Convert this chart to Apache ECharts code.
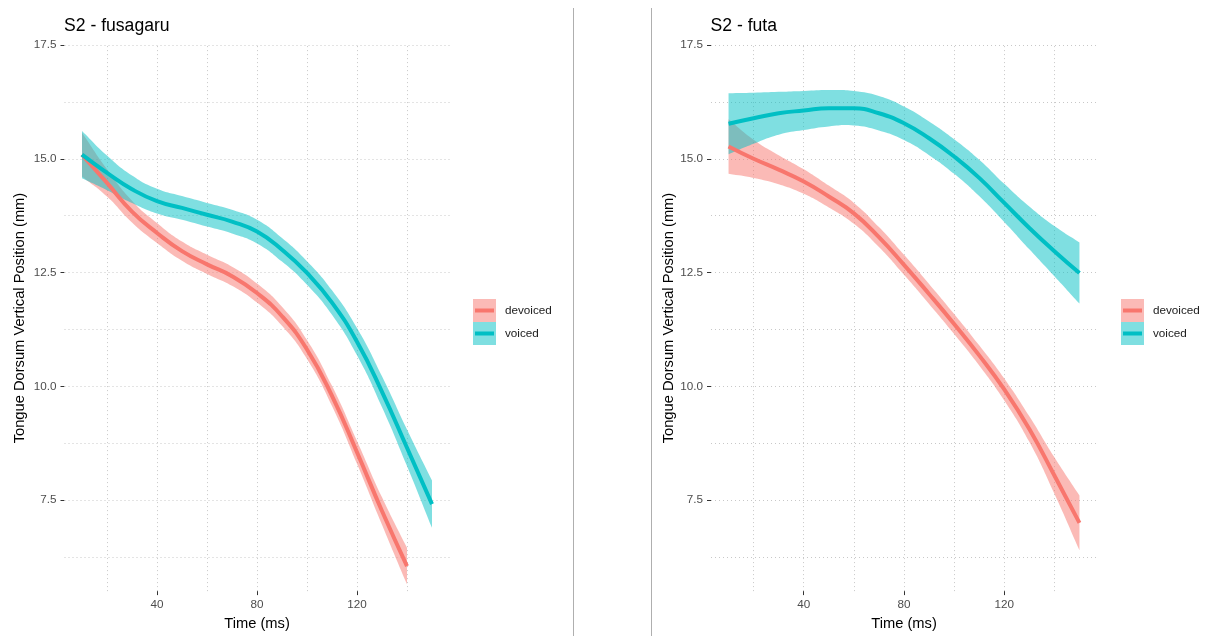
<!DOCTYPE html>
<html>
<head>
<meta charset="utf-8">
<title>S2 tongue dorsum trajectories</title>
<script src="https://cdn.jsdelivr.net/npm/echarts@6/dist/echarts.min.js"></script>
<style>
  html, body { margin: 0; padding: 0; background: #ffffff; }
  #chart { width: 1216px; height: 636px; }
</style>
</head>
<body>
<div id="chart"></div>
<script>
// Smoothed tongue dorsum height over time (GAM fit with confidence band)

const timeDevoicedFus = [10, 20, 30, 40, 50, 60, 70, 80, 90, 100, 110, 120, 130, 140];
const timeFull = [10, 20, 30, 40, 50, 60, 70, 80, 90, 100, 110, 120, 130, 140, 150];

// S2 - fusagaru
const fusDevoicedFit = [15.09, 14.47, 13.84, 13.37, 12.97, 12.68, 12.42, 12.05, 11.54, 10.81, 9.79, 8.55, 7.26, 6.05];
const fusDevoicedLo  = [14.61, 14.17, 13.60, 13.15, 12.76, 12.47, 12.21, 11.84, 11.33, 10.60, 9.57, 8.30, 6.96, 5.65];
const fusDevoicedHi  = [15.57, 14.77, 14.08, 13.59, 13.18, 12.89, 12.63, 12.26, 11.75, 11.02, 10.01, 8.80, 7.56, 6.45];

const fusVoicedFit = [15.09, 14.69, 14.33, 14.07, 13.92, 13.77, 13.62, 13.40, 13.00, 12.49, 11.84, 10.98, 9.88, 8.65, 7.41];
const fusVoicedLo  = [14.57, 14.31, 14.03, 13.80, 13.66, 13.51, 13.36, 13.14, 12.74, 12.23, 11.57, 10.68, 9.54, 8.25, 6.89];
const fusVoicedHi  = [15.61, 15.07, 14.63, 14.34, 14.18, 14.03, 13.88, 13.66, 13.26, 12.75, 12.11, 11.28, 10.22, 9.05, 7.93];

// S2 - futa
const futaDevoicedFit = [15.27, 15.00, 14.76, 14.50, 14.17, 13.80, 13.28, 12.67, 12.03, 11.37, 10.68, 9.93, 9.06, 8.04, 7.00];
const futaDevoicedLo  = [14.67, 14.58, 14.44, 14.23, 13.93, 13.57, 13.06, 12.45, 11.81, 11.15, 10.46, 9.69, 8.78, 7.64, 6.40];
const futaDevoicedHi  = [15.87, 15.42, 15.08, 14.77, 14.41, 14.03, 13.50, 12.89, 12.25, 11.59, 10.90, 10.17, 9.34, 8.44, 7.60];

const futaVoicedFit = [15.77, 15.89, 16.00, 16.06, 16.11, 16.11, 16.00, 15.78, 15.45, 15.05, 14.58, 14.03, 13.48, 12.97, 12.49];
const futaVoicedLo  = [15.10, 15.33, 15.53, 15.63, 15.71, 15.73, 15.62, 15.41, 15.08, 14.67, 14.18, 13.61, 13.01, 12.42, 11.82];
const futaVoicedHi  = [16.44, 16.45, 16.47, 16.49, 16.51, 16.49, 16.38, 16.15, 15.82, 15.43, 14.98, 14.45, 13.95, 13.52, 13.16];

const xTicks = [40, 80, 120];
const xGrid = [20, 40, 60, 80, 100, 120, 140];
const yTicks = [7.5, 10, 12.5, 15, 17.5];
const yGrid = [6.25, 7.5, 8.75, 10, 11.25, 12.5, 13.75, 15, 16.25, 17.5];

const groups = ['devoiced', 'voiced'];
const panelTitles = ['S2 - fusagaru', 'S2 - futa'];

const FONT = '"Liberation Sans", Arial, sans-serif';
const RED = '#F8766D';
const TEAL = '#00BFC4';
const RED_FILL = 'rgba(248,118,109,0.5)';
const TEAL_FILL = 'rgba(0,191,196,0.5)';
const GRID_COLOR = '#C8C8C8';
const SMOOTH = 0.5;
const LINE_W = 4;

const panels = [
  { left: 64.5, width: 385, nameGap: 37,
    sets: [
      { name: groups[0], t: timeDevoicedFus, fit: fusDevoicedFit, lo: fusDevoicedLo, hi: fusDevoicedHi, line: RED, fill: RED_FILL },
      { name: groups[1], t: timeFull, fit: fusVoicedFit, lo: fusVoicedLo, hi: fusVoicedHi, line: TEAL, fill: TEAL_FILL }
    ] },
  { left: 711, width: 386, nameGap: 35,
    sets: [
      { name: groups[0], t: timeFull, fit: futaDevoicedFit, lo: futaDevoicedLo, hi: futaDevoicedHi, line: RED, fill: RED_FILL },
      { name: groups[1], t: timeFull, fit: futaVoicedFit, lo: futaVoicedLo, hi: futaVoicedHi, line: TEAL, fill: TEAL_FILL }
    ] }
];

const zip = (t, v) => t.map((x, i) => [x, v[i]]);

// Cubic Bezier segments through pixel points, same control-point rule as a smoothed line series
function curveSegments(pts, smooth) {
  const n = pts.length;
  const cpPrev = [], cpNext = [];
  for (let i = 0; i < n; i++) {
    const p = pts[i];
    const prev = pts[i - 1] || p;
    const next = pts[i + 1] || p;
    const vx = next[0] - prev[0], vy = next[1] - prev[1];
    const d0 = Math.hypot(p[0] - prev[0], p[1] - prev[1]);
    const d1 = Math.hypot(next[0] - p[0], next[1] - p[1]);
    const r = (d0 + d1) > 0 ? d1 / (d0 + d1) : 0.5;
    cpNext.push([p[0] + vx * smooth * r, p[1] + vy * smooth * r]);
    cpPrev.push([p[0] - vx * smooth * (1 - r), p[1] - vy * smooth * (1 - r)]);
  }
  let d = '';
  for (let i = 1; i < n; i++) {
    const a = cpNext[i - 1], b = cpPrev[i], p = pts[i];
    d += ' C' + a[0] + ',' + a[1] + ' ' + b[0] + ',' + b[1] + ' ' + p[0] + ',' + p[1];
  }
  return d;
}

function bandSeries(pi, s) {
  return {
    type: 'custom', xAxisIndex: pi, yAxisIndex: pi, z: 10, silent: true,
    data: s.t.map((x, i) => [x, s.lo[i], s.hi[i]]),
    encode: { x: 0, y: [1, 2] },
    renderItem: function (params, api) {
      if (params.dataIndex !== 0) return null;
      const upper = s.t.map((x, i) => api.coord([x, s.hi[i]]));
      const lower = s.t.map((x, i) => api.coord([x, s.lo[i]])).reverse();
      const d = 'M' + upper[0][0] + ',' + upper[0][1] + curveSegments(upper, SMOOTH) +
        ' L' + lower[0][0] + ',' + lower[0][1] + curveSegments(lower, SMOOTH) + ' Z';
      return {
        type: 'path',
        shape: { pathData: d },
        style: { fill: s.fill, stroke: null }
      };
    }
  };
}

const grid = [], xAxis = [], yAxis = [], series = [], title = [], graphic = [];

panels.forEach((p, pi) => {
  grid.push({ left: p.left, top: 45, width: p.width, height: 547, containLabel: false });

  xAxis.push({
    type: 'value', gridIndex: pi, min: 3, max: 157,
    name: 'Time (ms)', nameLocation: 'middle', nameGap: 24,
    nameTextStyle: { fontFamily: FONT, fontSize: 14.7, color: '#000000' },
    axisLine: { show: false, onZero: false },
    axisTick: { show: true, length: 4, customValues: xTicks, lineStyle: { color: '#333333', width: 1 } },
    axisLabel: { customValues: xTicks, margin: 8, fontFamily: FONT, fontSize: 11.7, color: '#4D4D4D' },
    splitLine: { show: false }
  });

  yAxis.push({
    type: 'value', gridIndex: pi, min: 5.5, max: 17.5,
    name: 'Tongue Dorsum Vertical Position (mm)', nameLocation: 'middle', nameGap: p.nameGap, nameRotate: 90,
    nameTextStyle: { fontFamily: FONT, fontSize: 14.7, color: '#000000' },
    axisLine: { show: false },
    axisTick: { show: true, length: 4, customValues: yTicks, lineStyle: { color: '#333333', width: 1 } },
    axisLabel: { customValues: yTicks, margin: 8, fontFamily: FONT, fontSize: 11.7, color: '#4D4D4D',
      formatter: v => Number(v).toFixed(1) },
    splitLine: { show: false }
  });

  title.push({
    text: panelTitles[pi], left: p.left - 0.5, top: 17,
    textStyle: { fontFamily: FONT, fontSize: 17.6, fontWeight: 'normal', color: '#000000' },
    padding: 0
  });

  // dotted panel grid drawn on the data scales
  const gridLineStyle = { color: GRID_COLOR, width: 1, type: [1, 3] };
  series.push({
    type: 'line', xAxisIndex: pi, yAxisIndex: pi, data: [], silent: true, symbol: 'none',
    markLine: {
      silent: true, symbol: ['none', 'none'], label: { show: false },
      lineStyle: gridLineStyle, animation: false,
      data: xGrid.map(x => ({ xAxis: x })).concat(yGrid.map(y => ({ yAxis: y })))
    }
  });

  p.sets.forEach(s => {
    // confidence band
    series.push(bandSeries(pi, s));
    // fitted curve
    series.push({
      type: 'line', name: s.name, xAxisIndex: pi, yAxisIndex: pi, z: 10,
      data: zip(s.t, s.fit), smooth: SMOOTH, symbol: 'none', silent: true,
      lineStyle: { color: s.line, width: LINE_W, cap: 'butt' }
    });
  });

  // legend keys: band swatch with the fitted line through it
  const keyX = pi === 0 ? 473 : 1121;
  const keyY = [299, 322];
  [[RED_FILL, RED, groups[0]], [TEAL_FILL, TEAL, groups[1]]].forEach((k, ki) => {
    graphic.push({
      type: 'rect', silent: true,
      shape: { x: keyX, y: keyY[ki], width: 23, height: 23 },
      style: { fill: k[0] }
    });
    graphic.push({
      type: 'line', silent: true,
      shape: { x1: keyX + 2, y1: keyY[ki] + 11.5, x2: keyX + 21, y2: keyY[ki] + 11.5 },
      style: { stroke: k[1], lineWidth: LINE_W }
    });
    graphic.push({
      type: 'text', silent: true,
      x: keyX + 32, y: keyY[ki] + 11.5,
      style: { text: k[2], font: '11.7px ' + FONT, fill: '#1A1A1A', verticalAlign: 'middle', align: 'left' }
    });
  });
});

// divider lines between the two panels
[573.5, 651.5].forEach(x => {
  graphic.push({
    type: 'line', silent: true,
    shape: { x1: x, y1: 8, x2: x, y2: 636 },
    style: { stroke: '#AFAFAF', lineWidth: 1 }
  });
});

const chart = echarts.init(document.getElementById('chart'), null, { renderer: 'canvas' });
chart.setOption({
  animation: false,
  backgroundColor: '#ffffff',
  title, grid, xAxis, yAxis, series, graphic
});
</script>
</body>
</html>
